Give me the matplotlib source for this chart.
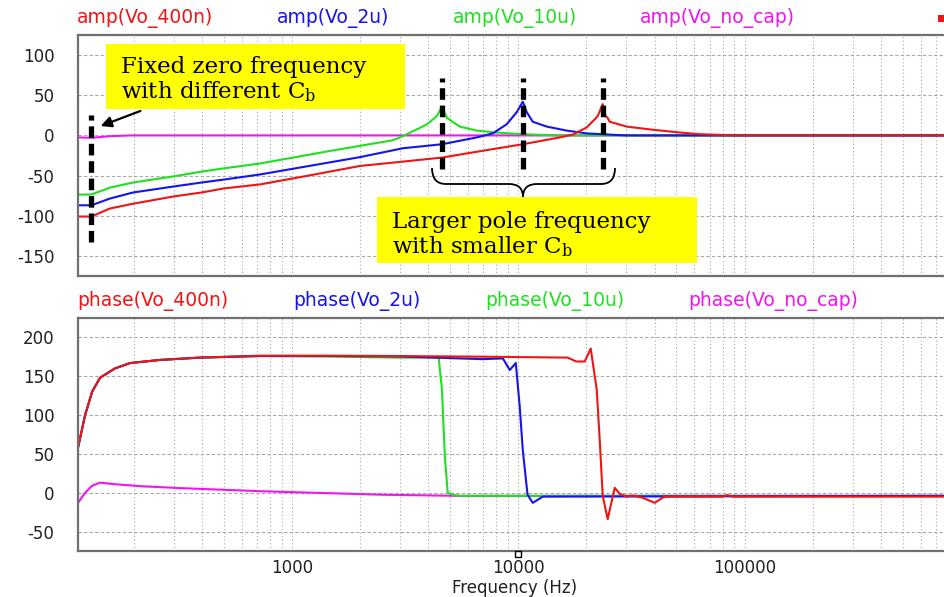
import matplotlib
matplotlib.use("Agg")
import matplotlib.pyplot as plt
from matplotlib.patches import Rectangle, PathPatch
from matplotlib.path import Path
from matplotlib.ticker import LogLocator, NullFormatter, FixedLocator, FixedFormatter
import matplotlib.transforms as mtransforms

# ---------------- data ----------------
series_labels = ["400n", "2u", "10u", "no_cap"]

freq_amp_400n = [113.5, 130, 157, 199, 300, 400, 500, 723, 1085, 2000, 3000, 4600, 7000,
                 10470, 15250, 17400, 20070, 21770, 22440, 23600, 24300, 24800, 25350,
                 30130, 38070, 50100, 63300, 90300, 760000]
amp_400n = [-101, -101, -91, -85, -76, -71, -66, -61, -52, -38, -33, -27.6, -19,
            -11, -2.5, 1, 10, 20, 24, 39, 24, 22, 17,
            11, 7.5, 4, 1.5, 0, 0]

freq_amp_2u = [113.5, 130, 157, 199, 300, 400, 500, 723, 1085, 2000, 3091, 4600, 6558,
               7717, 8897, 9849, 10470, 10900, 11590, 13360, 16380, 20070, 25350, 30130, 760000]
amp_2u = [-87, -87, -78.6, -71, -63.6, -58.6, -55, -48.6, -40, -27, -16, -11, -2.5,
          2.5, 14, 29, 42, 29, 17, 11, 6, 2.5, 1, 0, 0]

freq_amp_10u = [113.5, 130, 157, 199, 300, 400, 500, 723, 1427, 2792, 3091, 3945, 4368,
                4600, 4834, 5515, 6558, 7717, 9172, 11590, 15250, 760000]
amp_10u = [-73.6, -73.6, -65, -58.6, -51, -45, -41, -35, -20, -6, -1, 13.7, 24,
           36, 22, 11, 6, 4, 2.5, 1, 0, 0]

freq_amp_nocap = [113.5, 130, 157, 193, 760000]
amp_nocap = [-2.5, -3, -1, 0, 0]

freq_ph_400n = [113.5, 122, 131, 142, 165, 193, 261, 392, 723, 1427, 3000, 8000, 16540,
                18040, 19660, 20900, 22210, 22900, 23610, 24840, 26670, 28060, 30130,
                32030, 35450, 40070, 43600, 45240, 80000, 84100, 88000, 760000]
ph_400n = [58, 100, 130, 148, 160, 167, 171, 174, 176.5, 176.5, 176, 175, 174,
           169, 169, 185.6, 133, 68, -4, -34, 6.4, -1.3, -5,
           -3.5, -6.4, -13, -6, -5, -5, -3, -5, -5]

freq_ph_2u = [113.5, 122, 131, 142, 165, 193, 261, 392, 723, 1427, 3000, 6970, 8550,
              9172, 9750, 10150, 10470, 10990, 11590, 12830, 760000]
ph_2u = [58, 100, 130, 148, 160, 167, 171, 174, 176, 176, 175.5, 172, 173,
         158, 167, 111, 55, -2.6, -13, -5, -4]

freq_ph_10u = [113.5, 122, 131, 142, 165, 193, 261, 392, 723, 1427, 3000, 4450,
               4600, 4740, 4880, 5130, 5515, 760000]
ph_10u = [58, 100, 130, 148, 160, 167, 171, 174, 176, 175.5, 174, 174,
          133, 46, 0, -2.6, -4, -4]

freq_ph_nocap = [113.5, 122, 131, 142, 165, 213, 320, 723, 1085, 2570, 5515, 760000]
ph_nocap = [-13, 0, 9, 13, 11, 8.5, 6, 2, 0.5, -2.6, -4, -4]

amp_yticks = [-150, -100, -50, 0, 50, 100]
phase_yticks = [-50, 0, 50, 100, 150, 200]
freq_ticks = [1000, 10000, 100000]
freq_ticklabels = ["1000", "10000", "100000"]

# annotation frequencies (dashed markers)
zero_marker_freq = 130
pole_marker_freqs = [4600, 10470, 23600]

# ---------------- style ----------------
W, H = 944, 597
C_RED, C_BLUE, C_GREEN, C_MAG = "#f01414", "#1414ec", "#1ee01e", "#f014f0"
GRID_C = "#a8a8a8"
SPINE_C = "#707070"

fig = plt.figure(figsize=(W / 100, H / 100), dpi=100)


def fx(px):
    return px / W


def fy(py):
    return 1 - py / H


L = fx(78)
ax1 = fig.add_axes([L, fy(276), 1.0 - L, fy(35) - fy(276)])
ax2 = fig.add_axes([L, fy(551), 1.0 - L, fy(318) - fy(551)])

XMIN, XMAX = 113.5, 760000

for ax in (ax1, ax2):
    ax.set_xscale("log")
    ax.set_xlim(XMIN, XMAX)
    ax.xaxis.set_major_locator(FixedLocator(freq_ticks))
    ax.xaxis.set_minor_locator(LogLocator(base=10, subs=[2, 3, 4, 5, 6, 7, 8, 9], numticks=20))
    ax.xaxis.set_minor_formatter(NullFormatter())
    ax.grid(True, axis="x", which="both", color=GRID_C, lw=0.8, ls=(0, (1, 2.2)))
    ax.grid(True, axis="y", which="major", color=GRID_C, lw=0.8, ls=(0, (3, 2)))
    ax.tick_params(which="both", length=0)
    ax.tick_params(axis="y", pad=17, labelsize=12, colors="#202020")
    ax.spines["right"].set_visible(False)
    for s in ("left", "top", "bottom"):
        ax.spines[s].set_color(SPINE_C)
        ax.spines[s].set_linewidth(1.6)
    ax.set_axisbelow(True)

ax1.set_ylim(-175, 125)
ax1.set_yticks(amp_yticks)
ax1.set_yticklabels([str(v) for v in amp_yticks])
ax1.tick_params(axis="x", labelbottom=False)

ax2.set_ylim(-75, 225)
ax2.set_yticks(phase_yticks)
ax2.set_yticklabels([str(v) for v in phase_yticks])
ax2.xaxis.set_major_formatter(FixedFormatter(freq_ticklabels))
ax2.tick_params(axis="x", pad=6, labelsize=12, colors="#202020")

LW = 1.5
ax1.plot(freq_amp_nocap, amp_nocap, color=C_MAG, lw=LW)
ax1.plot(freq_amp_10u, amp_10u, color=C_GREEN, lw=LW)
ax1.plot(freq_amp_2u, amp_2u, color=C_BLUE, lw=LW)
ax1.plot(freq_amp_400n, amp_400n, color=C_RED, lw=LW)

ax2.plot(freq_ph_nocap, ph_nocap, color=C_MAG, lw=LW)
ax2.plot(freq_ph_10u, ph_10u, color=C_GREEN, lw=LW)
ax2.plot(freq_ph_2u, ph_2u, color=C_BLUE, lw=LW)
ax2.plot(freq_ph_400n, ph_400n, color=C_RED, lw=LW)

# dashed marker lines
ax1.vlines(zero_marker_freq, -133, 26, colors="black", lw=3.8, linestyles=(0, (2.2, 1.1)), zorder=5)
ax1.vlines(pole_marker_freqs, -42, 72, colors="black", lw=3.8, linestyles=(0, (2.2, 1.1)), zorder=5)

# cursor marker under the x axis
trans = mtransforms.blended_transform_factory(ax2.transData, ax2.transAxes)
ax2.plot([10000], [-0.012], marker="s", ms=4.5, mfc="white", mec="black", mew=1.0,
         transform=trans, clip_on=False, zorder=6)

# legend-like labels
fs_leg = 13.5
top_labels = [("amp(Vo_400n)", 77, C_RED), ("amp(Vo_2u)", 277, C_BLUE),
              ("amp(Vo_10u)", 453, C_GREEN), ("amp(Vo_no_cap)", 640, C_MAG)]
for txt, x, c in top_labels:
    fig.text(fx(x), fy(18), txt, color=c, fontsize=fs_leg, ha="left", va="center")
bot_labels = [("phase(Vo_400n)", 77, C_RED), ("phase(Vo_2u)", 293, C_BLUE),
              ("phase(Vo_10u)", 485, C_GREEN), ("phase(Vo_no_cap)", 688, C_MAG)]
for txt, x, c in bot_labels:
    fig.text(fx(x), fy(301), txt, color=c, fontsize=fs_leg, ha="left", va="center")
fig.patches.append(Rectangle((fx(938), fy(22)), fx(8), fy(15) - fy(22), transform=fig.transFigure,
                             facecolor=C_RED, edgecolor="none"))

fig.text(fx(515), fy(588), "Frequency (Hz)", fontsize=12, ha="center", va="center", color="#202020")

# yellow annotation boxes
plt.rcParams["mathtext.fontset"] = "dejavuserif"
SERIF = "DejaVu Serif"
fs_ann = 16.5
fig.patches.append(Rectangle((fx(106), fy(109)), fx(405) - fx(106), fy(44) - fy(109),
                             transform=fig.transFigure, facecolor="#ffff00", edgecolor="none", zorder=3))
fig.text(fx(121), fy(73), "Fixed zero frequency", family=SERIF, fontsize=fs_ann, va="baseline", zorder=4)
fig.text(fx(121), fy(98), r"with different C$_\mathrm{b}$", family=SERIF, fontsize=fs_ann, va="baseline", zorder=4)

fig.patches.append(Rectangle((fx(377), fy(263)), fx(697) - fx(377), fy(197) - fy(263),
                             transform=fig.transFigure, facecolor="#ffff00", edgecolor="none", zorder=3))
fig.text(fx(392), fy(228), "Larger pole frequency", family=SERIF, fontsize=fs_ann, va="baseline", zorder=4)
fig.text(fx(392), fy(253), r"with smaller C$_\mathrm{b}$", family=SERIF, fontsize=fs_ann, va="baseline", zorder=4)

# arrow
fig.patches.append(matplotlib.patches.FancyArrowPatch(
    (fx(143), fy(110)), (fx(98), fy(127)), transform=fig.transFigure,
    arrowstyle="-|>", mutation_scale=16, color="black", lw=1.6, zorder=6))

# curly brace
pts = [(432, 168), (432, 184), (446, 184), (509, 184), (523, 184), (523, 197),
       (523, 184), (537, 184), (601, 184), (615, 184), (615, 168)]
codes = [Path.MOVETO, Path.CURVE3, Path.CURVE3, Path.LINETO, Path.CURVE3, Path.CURVE3,
         Path.CURVE3, Path.CURVE3, Path.LINETO, Path.CURVE3, Path.CURVE3]
brace = Path([(fx(a), fy(b)) for a, b in pts], codes)
fig.patches.append(PathPatch(brace, transform=fig.transFigure, facecolor="none",
                             edgecolor="black", lw=1.3, zorder=6))

fig.savefig("out.png", dpi=100)
